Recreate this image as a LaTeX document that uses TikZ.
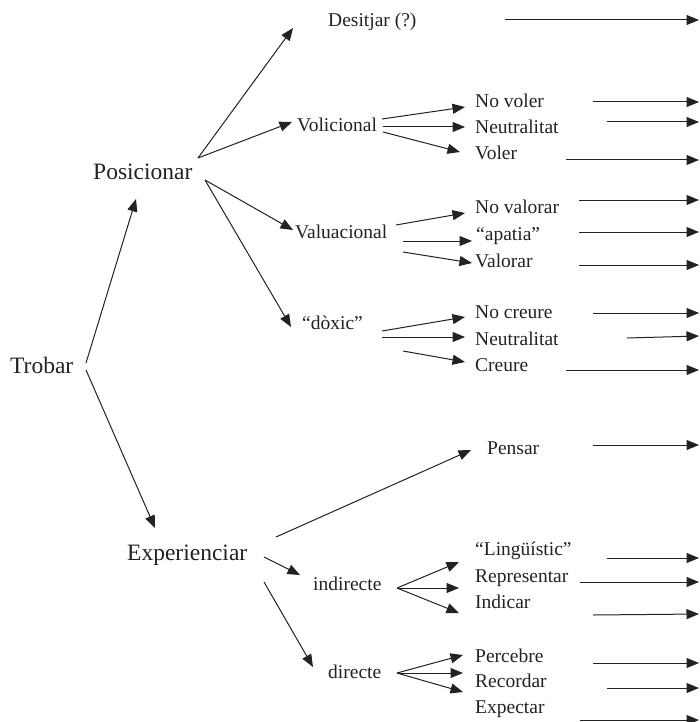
\documentclass[tikz,border=0pt]{standalone}
\usepackage{fontspec}
\setmainfont{Liberation Serif}
\usetikzlibrary{arrows.meta}
\definecolor{ink}{HTML}{222222}
\tikzset{
  big/.style={anchor=base west, inner sep=0pt, font=\fontsize{23.5}{26}\selectfont, text=ink},
  small/.style={anchor=base west, inner sep=0pt, font=\fontsize{19.5}{22}\selectfont, text=ink},
  arr/.style={draw=ink, line width=1pt, -{Triangle[length=12.5pt,width=10pt]}},
}
\begin{document}
\begin{tikzpicture}[x=1pt,y=-1pt]
\useasboundingbox (0,0) rectangle (700,722);
% nodes
\node[big]   (tro)  at (10,373)  {Trobar};
\node[big]   (pos)  at (93,179)  {Posicionar};
\node[big]   (exp)  at (127,560) {Experienciar};
\node[small] (des)  at (328,27)  {Desitjar (?)};
\node[small] (vol)  at (297,132) {Volicional};
\node[small] (val)  at (295,238) {Valuacional};
\node[small] (dox)  at (302,329) {“dòxic”};
\node[small] (nvo)  at (475,108) {No voler};
\node[small] (ne1)  at (475,134) {Neutralitat};
\node[small] (vo)   at (475,160) {Voler};
\node[small] (nva)  at (475,213) {No valorar};
\node[small] (apa)  at (476,240) {“apatia”};
\node[small] (va)   at (475,267) {Valorar};
\node[small] (ncr)  at (475,318) {No creure};
\node[small] (ne2)  at (475,345) {Neutralitat};
\node[small] (cr)   at (475,371) {Creure};
\node[small] (pen)  at (487,454) {Pensar};
\node[small] (ind)  at (313,590) {indirecte};
\node[small] (dir)  at (328,678) {directe};
\node[small] (lin)  at (475,555) {“Lingüístic”};
\node[small] (rep)  at (475,582) {Representar};
\node[small] (ic)   at (475,608) {Indicar};
\node[small] (pe)   at (475,662) {Percebre};
\node[small] (rec)  at (475,687) {Recordar};
\node[small] (expc) at (475,713) {Expectar};
% tree connectors
\draw[arr] ([shift={(76,-10)}]tro.base west) -- ([shift={(43,20)}]pos.base west);
\draw[arr] ([shift={(76,-3)}]tro.base west) -- ([shift={(28,-32)}]exp.base west);
\draw[arr] ([shift={(105,-21)}]pos.base west) -- ([shift={(-35,1)}]des.base west);
\draw[arr] ([shift={(105,-21)}]pos.base west) -- ([shift={(-5,-10)}]vol.base west);
\draw[arr] ([shift={(112,1)}]pos.base west) -- ([shift={(-2,-8)}]val.base west);
\draw[arr] ([shift={(112,1)}]pos.base west) -- ([shift={(-11,-2)}]dox.base west);
\draw[arr] ([shift={(85,-13)}]vol.base west) -- ([shift={(-10,-1)}]nvo.base west);
\draw[arr] ([shift={(86,-5)}]vol.base west) -- ([shift={(-10,-7)}]ne1.base west);
\draw[arr] ([shift={(86,0)}]vol.base west) -- ([shift={(-15,-8)}]vo.base west);
\draw[arr] ([shift={(101,-13)}]val.base west) -- ([shift={(-10,0)}]nva.base west);
\draw[arr] ([shift={(108,3)}]val.base west) -- ([shift={(-4,1)}]apa.base west);
\draw[arr] ([shift={(108,14)}]val.base west) -- ([shift={(-3,-4)}]va.base west);
\draw[arr] ([shift={(80,2)}]dox.base west) -- ([shift={(-10,-1)}]ncr.base west);
\draw[arr] ([shift={(80,8)}]dox.base west) -- ([shift={(-10,-8)}]ne2.base west);
\draw[arr] ([shift={(101,22)}]dox.base west) -- ([shift={(-10,-9)}]cr.base west);
\draw[arr] ([shift={(149,-23)}]exp.base west) -- ([shift={(-16,-4)}]pen.base west);
\draw[arr] ([shift={(137,-3)}]exp.base west) -- ([shift={(-13,-15)}]ind.base west);
\draw[arr] ([shift={(137,22)}]exp.base west) -- ([shift={(-15,-11)}]dir.base west);
\draw[arr] ([shift={(84,-2)}]ind.base west) -- ([shift={(-16,7)}]lin.base west);
\draw[arr] ([shift={(84,-2)}]ind.base west) -- ([shift={(-16,6)}]rep.base west);
\draw[arr] ([shift={(84,-2)}]ind.base west) -- ([shift={(-16,5)}]ic.base west);
\draw[arr] ([shift={(69,-5)}]dir.base west) -- ([shift={(-12,-7)}]pe.base west);
\draw[arr] ([shift={(69,-5)}]dir.base west) -- ([shift={(-12,-14)}]rec.base west);
\draw[arr] ([shift={(69,-5)}]dir.base west) -- ([shift={(-12,-21)}]expc.base west);
% outgoing arrows to the right edge
\draw[arr] ([shift={(177,-7)}]des.base west) -- ++(194,0);
\draw[arr] ([shift={(118,-6)}]nvo.base west) -- ++(106,0);
\draw[arr] ([shift={(132,-12)}]ne1.base west) -- ++(92,0);
\draw[arr] ([shift={(91,0)}]vo.base west) -- ++(133,0);
\draw[arr] ([shift={(104,-13)}]nva.base west) -- ++(120,0);
\draw[arr] ([shift={(103,-8)}]apa.base west) -- ++(120,0);
\draw[arr] ([shift={(104,-2)}]va.base west) -- ++(120,0);
\draw[arr] ([shift={(118,-5)}]ncr.base west) -- ++(106,0);
\draw[arr] ([shift={(152,-7)}]ne2.base west) -- ++(72,-2);
\draw[arr] ([shift={(91,-1)}]cr.base west) -- ++(133,0);
\draw[arr] ([shift={(106,-9)}]pen.base west) -- ++(106,0);
\draw[arr] ([shift={(132,3)}]lin.base west) -- ++(92,0);
\draw[arr] ([shift={(105,0)}]rep.base west) -- ++(119,0);
\draw[arr] ([shift={(118,7)}]ic.base west) -- ++(106,-1);
\draw[arr] ([shift={(118,1)}]pe.base west) -- ++(106,0);
\draw[arr] ([shift={(132,1)}]rec.base west) -- ++(92,0);
\draw[arr] ([shift={(105,7)}]expc.base west) -- ++(119,0);
\end{tikzpicture}
\end{document}
